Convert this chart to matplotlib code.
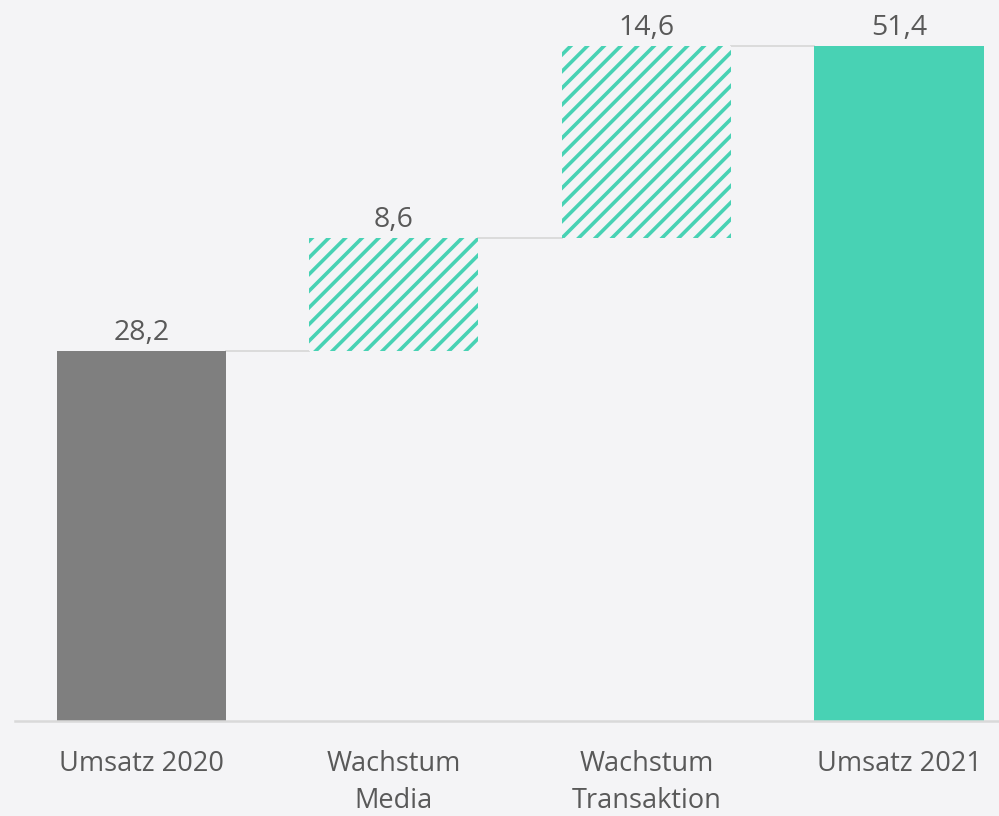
import matplotlib.pyplot as plt

# Daten
categories = ["Umsatz 2020", "Wachstum\nMedia", "Wachstum\nTransaktion", "Umsatz 2021"]
values = [28.2, 8.6, 14.6, 51.4]
kinds = ["total", "delta", "delta", "total"]
value_labels = ["28,2", "8,6", "14,6", "51,4"]

BG = "#F4F4F6"
GREY = "#7F7F7F"
TEAL = "#48D2B4"
TEXT = "#595959"
LINE = "#D9D9D9"

plt.rcParams['font.family'] = ['Open Sans', 'DejaVu Sans']
plt.rcParams['hatch.linewidth'] = 2.6
plt.rcParams['hatch.color'] = TEAL

fig = plt.figure(figsize=(9.99, 8.16), dpi=100, facecolor=BG)
ax = fig.add_axes([15 / 999, 95 / 816, 1 - 15 / 999, 1 - 95 / 816])
ax.set_facecolor(BG)

width = 0.67
bottoms = []
tops = []
running = 0
for v, k in zip(values, kinds):
    if k == "total":
        bottoms.append(0)
        running = v
    else:
        bottoms.append(running)
        running += v
    tops.append(bottoms[-1] + v)

for i, (v, b, k) in enumerate(zip(values, bottoms, kinds)):
    if k == "total":
        color = GREY if i == 0 else TEAL
        ax.bar(i, v, bottom=b, width=width, color=color, edgecolor="none", zorder=2)
    else:
        ax.bar(i, v, bottom=b, width=width, facecolor=BG, edgecolor=TEAL,
               hatch="//", linewidth=0, zorder=2)
    ax.annotate(value_labels[i], (i, tops[i]), xytext=(0, 3), textcoords="offset points",
                ha="center", va="bottom", fontsize=20.5, color=TEXT)

# Verbindungslinien
for i in range(len(values) - 1):
    ax.plot([i + width / 2, i + 1 - width / 2], [tops[i], tops[i]],
            color=LINE, linewidth=1.3, zorder=1)

ax.set_xlim(-0.5, 3.396)
ax.set_ylim(0, 721 / (675 / 51.4))

ax.set_xticks(range(len(categories)))
ax.set_xticklabels(categories, fontsize=19.5, color=TEXT, linespacing=1.4)
ax.tick_params(axis="x", length=0, pad=21)
ax.set_yticks([])
for s in ["top", "right", "left"]:
    ax.spines[s].set_visible(False)
ax.spines["bottom"].set_color(LINE)
ax.spines["bottom"].set_linewidth(1.8)

fig.savefig("out.png", dpi=100, facecolor=BG)
